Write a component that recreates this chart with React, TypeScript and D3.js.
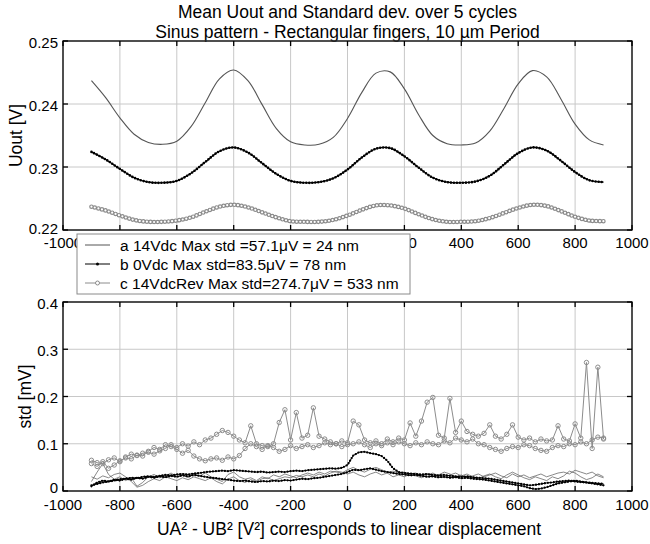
import React from "react";
import * as d3 from "d3";

const TITLE_1 = "Mean Uout and Standard dev. over 5 cycles";
const TITLE_2 = "Sinus pattern - Rectangular fingers, 10 µm Period";
const Y_LABEL_TOP = "Uout [V]";
const Y_LABEL_BOT = "std [mV]";
const X_LABEL = "UA² - UB² [V²] corresponds to linear displacement";

const X_TICKS = [-1000, -800, -600, -400, -200, 0, 200, 400, 600, 800, 1000];
const TOP_Y_TICKS = [0.22, 0.23, 0.24, 0.25];
const BOT_Y_TICKS = [0, 0.1, 0.2, 0.3, 0.4];

const LEGEND_LABELS = [
  "a 14Vdc Max std =57.1μV = 24 nm",
  "b 0Vdc Max std=83.5μV = 78 nm",
  "c 14VdcRev Max std=274.7μV = 533 nm",
];

// Top panel: mean Uout [V]
const TOP_X = [
  -900, -850, -800, -750, -700, -650, -600, -550, -500, -450, -400, -350, -300,
  -250, -200, -150, -100, -50, 0, 50, 100, 150, 200, 250, 300, 350, 400, 450,
  500, 550, 600, 650, 700, 750, 800, 850, 900,
];
const UOUT_A = [
  0.2437, 0.241, 0.2378, 0.2352, 0.2339, 0.2336, 0.2341, 0.2364, 0.2402, 0.244,
  0.2454, 0.2437, 0.2399, 0.2361, 0.234, 0.2335, 0.2336, 0.2347, 0.2377, 0.2418,
  0.2449, 0.2451, 0.2424, 0.2383, 0.235, 0.2337, 0.2335, 0.2338, 0.2357, 0.2393,
  0.2432, 0.2453, 0.2443, 0.2408, 0.2368, 0.2343, 0.2335,
];
const UOUT_B = [
  0.2324, 0.2312, 0.2297, 0.2283, 0.2276, 0.2275, 0.2278, 0.229, 0.2308, 0.2325,
  0.2331, 0.2323, 0.2306, 0.2289, 0.2278, 0.2275, 0.2276, 0.2282, 0.2296, 0.2315,
  0.2329, 0.233, 0.2317, 0.2299, 0.2283, 0.2276, 0.2275, 0.2277, 0.2286, 0.2304,
  0.2322, 0.2331, 0.2326, 0.231, 0.2292, 0.2279, 0.2276,
];
const UOUT_C = [
  0.2237, 0.2231, 0.2223, 0.2216, 0.2213, 0.2213, 0.2215, 0.222, 0.2229, 0.2237,
  0.224, 0.2236, 0.2228, 0.222, 0.2214, 0.2213, 0.2213, 0.2216, 0.2223, 0.2232,
  0.2239, 0.2239, 0.2234, 0.2225, 0.2217, 0.2213, 0.2213, 0.2214, 0.2219, 0.2227,
  0.2235, 0.224, 0.2238, 0.223, 0.2221, 0.2215, 0.2214,
];

// Bottom panel: std [mV]
const STD_X = [
  -900, -880, -860, -840, -820, -800, -780, -760, -740, -720,
  -700, -680, -660, -640, -620, -600, -580, -560, -540, -520,
  -500, -480, -460, -440, -420, -400, -380, -360, -340, -320,
  -300, -280, -260, -240, -220, -200, -180, -160, -140, -120,
  -100, -80, -60, -40, -20, 0, 20, 40, 60, 80,
  100, 120, 140, 160, 180, 200, 220, 240, 260, 280,
  300, 320, 340, 360, 380, 400, 420, 440, 460, 480,
  500, 520, 540, 560, 580, 600, 620, 640, 660, 680,
  700, 720, 740, 760, 780, 800, 820, 840, 860, 880,
  900,
];
const STD_A1 = [
  0.02, 0.04, 0.058, 0.035, 0.025, 0.03, 0.022, 0.028, 0.01, 0.018,
  0.03, 0.035, 0.028, 0.032, 0.038, 0.03, 0.034, 0.028, 0.036, 0.032,
  0.038, 0.03, 0.025, 0.02, 0.035, 0.04, 0.03, 0.025, 0.028, 0.022,
  0.03, 0.026, 0.034, 0.03, 0.036, 0.032, 0.028, 0.034, 0.038, 0.034,
  0.04, 0.036, 0.042, 0.04, 0.038, 0.045, 0.05, 0.044, 0.04, 0.046,
  0.05, 0.045, 0.04, 0.042, 0.038, 0.04, 0.035, 0.038, 0.032, 0.036,
  0.03, 0.034, 0.04, 0.036, 0.03, 0.034, 0.028, 0.032, 0.036, 0.03,
  0.034, 0.038, 0.032, 0.028, 0.036, 0.03, 0.034, 0.028, 0.032, 0.036,
  0.03, 0.034, 0.038, 0.04, 0.036, 0.044, 0.04, 0.036, 0.04, 0.032,
  0.028,
];
const STD_A2 = [
  0.03, 0.025, 0.032, 0.028, 0.035, 0.038, 0.03, 0.02, 0.008, 0.012,
  0.02, 0.026, 0.022, 0.03, 0.026, 0.022, 0.028, 0.024, 0.03, 0.026,
  0.022, 0.028, 0.02, 0.015, 0.025, 0.03, 0.022, 0.018, 0.024, 0.02,
  0.026, 0.028, 0.022, 0.026, 0.03, 0.028, 0.033, 0.03, 0.034, 0.03,
  0.036, 0.032, 0.038, 0.042, 0.04, 0.036, 0.04, 0.034, 0.03, 0.036,
  0.04, 0.034, 0.038, 0.03, 0.034, 0.03, 0.036, 0.032, 0.028, 0.034,
  0.038, 0.032, 0.028, 0.034, 0.038, 0.032, 0.036, 0.03, 0.026, 0.032,
  0.036, 0.03, 0.026, 0.034, 0.04, 0.034, 0.028, 0.024, 0.03, 0.026,
  0.022, 0.03, 0.026, 0.032, 0.042, 0.038, 0.03, 0.024, 0.028, 0.036,
  0.03,
];
const STD_B1 = [
  0.012, 0.015, 0.018, 0.02, 0.022, 0.025, 0.026, 0.028, 0.027, 0.03,
  0.031, 0.03, 0.032, 0.034, 0.033, 0.035, 0.036, 0.035, 0.037, 0.038,
  0.04, 0.041, 0.042, 0.043, 0.042, 0.044, 0.043, 0.042, 0.041, 0.04,
  0.041, 0.039, 0.04, 0.041, 0.04, 0.042, 0.043, 0.042, 0.044, 0.045,
  0.046, 0.047, 0.048, 0.047, 0.049, 0.055, 0.075, 0.082, 0.083, 0.08,
  0.078, 0.074, 0.064, 0.048, 0.04, 0.038, 0.037, 0.036, 0.035, 0.036,
  0.034, 0.033, 0.034, 0.032, 0.031, 0.03, 0.031, 0.029, 0.028, 0.027,
  0.026, 0.024, 0.022, 0.02, 0.018, 0.016, 0.014, 0.012, 0.013, 0.015,
  0.017, 0.018, 0.02, 0.021, 0.022, 0.02, 0.019, 0.018, 0.017, 0.016,
  0.015,
];
const STD_B2 = [
  0.01, 0.018, 0.022, 0.02, 0.024, 0.022, 0.026, 0.024, 0.028, 0.026,
  0.03, 0.028, 0.031, 0.029, 0.032, 0.03, 0.033, 0.031, 0.034, 0.032,
  0.03, 0.028, 0.027, 0.025, 0.024, 0.022, 0.021, 0.022, 0.02, 0.019,
  0.021, 0.02, 0.022, 0.021, 0.023, 0.022, 0.024, 0.026, 0.025, 0.027,
  0.028, 0.03, 0.032, 0.034, 0.036, 0.04, 0.045, 0.044, 0.046, 0.048,
  0.045, 0.042, 0.04, 0.038, 0.036, 0.035, 0.033, 0.034, 0.032, 0.03,
  0.031, 0.029, 0.03, 0.028, 0.029, 0.027, 0.028, 0.026, 0.025, 0.024,
  0.022, 0.02, 0.018, 0.016, 0.014, 0.012, 0.01, 0.006, 0.004, 0.005,
  0.008, 0.012, 0.016, 0.018, 0.02, 0.022, 0.02, 0.018, 0.016, 0.014,
  0.012,
];
const STD_C1 = [
  0.065, 0.06, 0.058, 0.066, 0.07, 0.062, 0.072, 0.078, 0.075, 0.08,
  0.082, 0.078, 0.085, 0.09, 0.098, 0.092, 0.1, 0.095, 0.104, 0.098,
  0.108, 0.112, 0.12, 0.128, 0.124, 0.116, 0.108, 0.102, 0.138, 0.1,
  0.096, 0.094, 0.1, 0.145, 0.172, 0.108, 0.166, 0.112, 0.118, 0.176,
  0.116, 0.11, 0.104, 0.1, 0.106, 0.102, 0.148, 0.14, 0.108, 0.102,
  0.106, 0.1, 0.11, 0.104, 0.112, 0.108, 0.144, 0.116, 0.148, 0.188,
  0.198, 0.118, 0.112, 0.196, 0.124, 0.148, 0.126, 0.12, 0.116, 0.122,
  0.14, 0.116, 0.11, 0.12, 0.14, 0.114, 0.108, 0.112, 0.104, 0.11,
  0.106, 0.108, 0.138, 0.11, 0.106, 0.142, 0.112, 0.272, 0.09, 0.262,
  0.11,
];
const STD_C2 = [
  0.058, 0.052, 0.062, 0.048, 0.055, 0.064, 0.07, 0.068, 0.076, 0.074,
  0.084, 0.092, 0.088, 0.098, 0.094, 0.088, 0.08, 0.086, 0.074, 0.068,
  0.064, 0.068, 0.07, 0.065, 0.072, 0.068, 0.075, 0.09, 0.1, 0.094,
  0.088, 0.096, 0.092, 0.084, 0.088, 0.096, 0.09, 0.094, 0.098, 0.092,
  0.096, 0.102, 0.098, 0.1, 0.094, 0.098, 0.1, 0.104, 0.098, 0.092,
  0.1, 0.096, 0.102, 0.098, 0.104, 0.1, 0.096, 0.102, 0.098, 0.104,
  0.1, 0.098, 0.106, 0.102, 0.112, 0.108, 0.104, 0.11, 0.1, 0.098,
  0.092, 0.088, 0.084, 0.09, 0.094, 0.092, 0.098, 0.096, 0.09, 0.086,
  0.084, 0.092, 0.096, 0.094, 0.1, 0.098, 0.104, 0.1, 0.108, 0.114,
  0.112,
];

const FONT = "'Liberation Sans', Arial, Helvetica, sans-serif";
const COL_A = "#555555";
const COL_B = "#000000";
const COL_C = "#8c8c8c";
const GRID = "#c8c8c8";

const L = 63;
const R = 632;
const TOP_T = 41;
const TOP_B = 230;
const BOT_T = 302;
const BOT_B = 491;

const LEG_X = 77;
const LEG_Y = 234;
const LEG_W = 333;
const LEG_H = 60;

function Frame({
  y,
  yTicks,
  t,
  b,
  fmt,
  firstShift,
}: {
  y: d3.ScaleLinear<number, number>;
  yTicks: number[];
  t: number;
  b: number;
  fmt: (v: number) => string;
  firstShift: number;
}) {
  const x = d3.scaleLinear().domain([-1000, 1000]).range([L, R]);
  return (
    <g>
      {X_TICKS.map((v) => (
        <line key={"gx" + v} x1={x(v)} x2={x(v)} y1={t} y2={b} stroke={GRID} strokeWidth={1} />
      ))}
      {yTicks.map((v) => (
        <line key={"gy" + v} x1={L} x2={R} y1={y(v)} y2={y(v)} stroke={GRID} strokeWidth={1} />
      ))}
      {yTicks.map((v, i) => (
        <text
          key={"ly" + v}
          x={L - 5}
          y={y(v) + (i === 0 ? firstShift : 1)}
          textAnchor="end"
          dominantBaseline="central"
          fontSize={15}
          fontFamily={FONT}
        >
          {fmt(v)}
        </text>
      ))}
    </g>
  );
}

function Box({ y, yTicks, t, b }: { y: d3.ScaleLinear<number, number>; yTicks: number[]; t: number; b: number }) {
  const x = d3.scaleLinear().domain([-1000, 1000]).range([L, R]);
  const tk = 5;
  return (
    <g stroke="#000" strokeWidth={1.3}>
      {X_TICKS.map((v) => (
        <g key={"tx" + v}>
          <line x1={x(v)} x2={x(v)} y1={b} y2={b - tk} />
          <line x1={x(v)} x2={x(v)} y1={t} y2={t + tk} />
        </g>
      ))}
      {yTicks.map((v) => (
        <g key={"ty" + v}>
          <line x1={L} x2={L + tk} y1={y(v)} y2={y(v)} />
          <line x1={R} x2={R - tk} y1={y(v)} y2={y(v)} />
        </g>
      ))}
      <rect x={L} y={t} width={R - L} height={b - t} fill="none" />
    </g>
  );
}

export default function App() {
  const x = d3.scaleLinear().domain([-1000, 1000]).range([L, R]);
  const yTop = d3.scaleLinear().domain([0.22, 0.25]).range([TOP_B, TOP_T]);
  const yBot = d3.scaleLinear().domain([0, 0.4]).range([BOT_B, BOT_T]);

  const topLine = (vals: number[]) =>
    d3
      .line<number>()
      .x((_, i) => x(TOP_X[i]))
      .y((d) => yTop(d))
      .curve(d3.curveCatmullRom.alpha(0.5))(vals) || "";
  const botLine = (vals: number[]) =>
    d3
      .line<number>()
      .x((_, i) => x(STD_X[i]))
      .y((d) => yBot(d))(vals) || "";

  const pA = topLine(UOUT_A);
  const pB = topLine(UOUT_B);
  const pC = topLine(UOUT_C);

  const fmtTop = d3.format(".2f");
  const fmtBot = (v: number) => String(v);

  const rows = [245, 264, 283];
  // top-panel x tick labels entirely hidden behind the legend are not drawn
  const topXLabels = X_TICKS.filter((v) => {
    const hw = String(v).length * 4.2;
    return !(x(v) - hw > LEG_X && x(v) + hw < LEG_X + LEG_W);
  });

  return (
    <svg
      width={650}
      height={544}
      style={{ position: "absolute", left: 0, top: 0, background: "#fff" }}
      fontFamily={FONT}
    >
      <rect x={0} y={0} width={650} height={544} fill="#fff" />
      {/* Title */}
      <text x={347.5} y={18} textAnchor="middle" fontSize={17.5}>
        {TITLE_1}
      </text>
      <text x={347.5} y={38} textAnchor="middle" fontSize={17.5}>
        {TITLE_2}
      </text>

      {/* Top panel */}
      <Frame y={yTop} yTicks={TOP_Y_TICKS} t={TOP_T} b={TOP_B} fmt={fmtTop} firstShift={-2} />
      <g fill="none">
        <path d={pA} stroke={COL_A} strokeWidth={1.1} />
        <path d={pB} stroke={COL_B} strokeWidth={1.2} />
        <path d={pB} stroke={COL_B} strokeWidth={2.6} strokeDasharray="0 3" strokeLinecap="round" />
        <path d={pC} stroke={COL_C} strokeWidth={4.6} strokeDasharray="0 3.6" strokeLinecap="round" />
        <path d={pC} stroke="#fff" strokeWidth={2.2} strokeDasharray="0 3.6" strokeLinecap="round" />
      </g>
      <Box y={yTop} yTicks={TOP_Y_TICKS} t={TOP_T} b={TOP_B} />
      {topXLabels.map((v) => (
        <text key={"xt" + v} x={x(v)} y={248} textAnchor="middle" fontSize={15}>
          {String(v)}
        </text>
      ))}
      <text
        transform={`translate(16,${(TOP_T + TOP_B) / 2}) rotate(-90)`}
        textAnchor="middle"
        dominantBaseline="central"
        fontSize={17.5}
      >
        {Y_LABEL_TOP}
      </text>

      {/* Bottom panel */}
      <Frame y={yBot} yTicks={BOT_Y_TICKS} t={BOT_T} b={BOT_B} fmt={fmtBot} firstShift={-4} />
      <g fill="none">
        <path d={botLine(STD_A1)} stroke={COL_A} strokeOpacity={0.7} strokeWidth={1} />
        <path d={botLine(STD_A2)} stroke={COL_A} strokeOpacity={0.7} strokeWidth={1} />
        {[STD_B1, STD_B2].map((s, k) => (
          <g key={"b" + k}>
            <path d={botLine(s)} stroke={COL_B} strokeWidth={1} />
            <path d={botLine(s)} stroke={COL_B} strokeWidth={2.3} strokeDasharray="0 3" strokeLinecap="round" />
          </g>
        ))}
        {[STD_C1, STD_C2].map((s, k) => (
          <g key={"c" + k}>
            <path d={botLine(s)} stroke={COL_C} strokeWidth={1} />
            {s.map((v, i) => (
              <circle key={i} cx={x(STD_X[i])} cy={yBot(v)} r={2.2} stroke={COL_C} strokeWidth={1} fill="none" />
            ))}
          </g>
        ))}
      </g>
      <Box y={yBot} yTicks={BOT_Y_TICKS} t={BOT_T} b={BOT_B} />
      {X_TICKS.map((v) => (
        <text key={"xb" + v} x={x(v)} y={510} textAnchor="middle" fontSize={15}>
          {String(v)}
        </text>
      ))}
      <text
        transform={`translate(25,${(BOT_T + BOT_B) / 2}) rotate(-90)`}
        textAnchor="middle"
        dominantBaseline="central"
        fontSize={17.5}
      >
        {Y_LABEL_BOT}
      </text>
      <text x={349} y={535} textAnchor="middle" fontSize={17.5}>
        {X_LABEL}
      </text>

      {/* Legend */}
      <rect x={LEG_X} y={LEG_Y} width={LEG_W} height={LEG_H} fill="#fff" stroke="#8a8a8a" strokeWidth={1} />
      <line x1={85} x2={110} y1={rows[0]} y2={rows[0]} stroke={COL_A} strokeWidth={1} />
      <line x1={85} x2={110} y1={rows[1]} y2={rows[1]} stroke={COL_B} strokeWidth={1} />
      <circle cx={97.5} cy={rows[1]} r={1.5} fill={COL_B} />
      <line x1={85} x2={110} y1={rows[2]} y2={rows[2]} stroke={COL_C} strokeWidth={1} />
      <circle cx={97.5} cy={rows[2]} r={2} fill="#fff" stroke={COL_C} strokeWidth={1} />
      {LEGEND_LABELS.map((s, i) => (
        <text key={s} x={120} y={rows[i]} dominantBaseline="central" fontSize={15.5}>
          {s}
        </text>
      ))}
    </svg>
  );
}
